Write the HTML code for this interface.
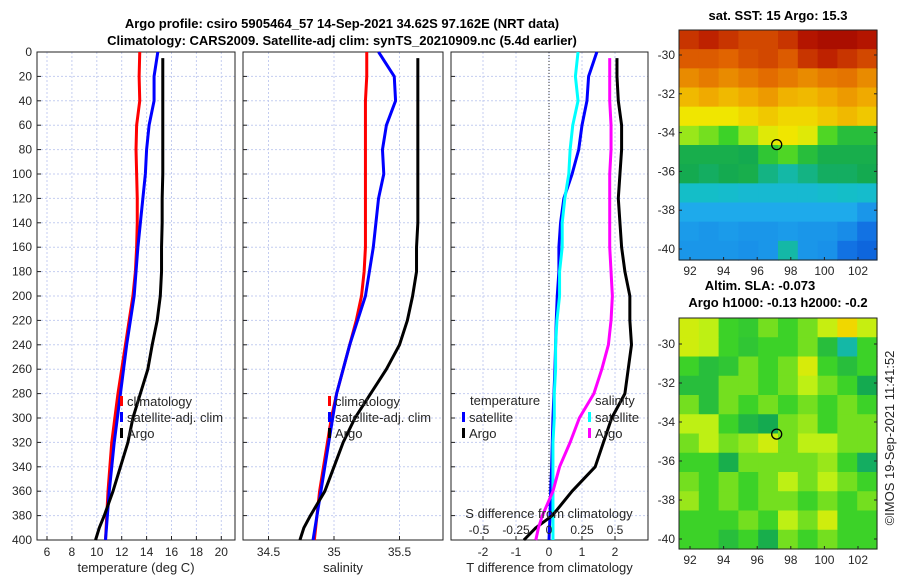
<!DOCTYPE html>
<html><head><meta charset="utf-8"><style>
body{margin:0;background:#fff}
svg{display:block;font-family:"Liberation Sans","DejaVu Sans",sans-serif}
</style></head><body>
<svg id="c" width="900" height="580" viewBox="0 0 900 580"></svg>
<script>
// ---- data ----
const depths=[0,20,40,60,80,100,120,140,160,180,200,220,240,260,280,300,320,340,360,380,400];
const tempClim=[13.45,13.4,13.45,13.2,13.15,13.2,13.25,13.25,13.2,13.1,12.9,12.6,12.3,12.0,11.7,11.45,11.2,11.05,10.9,10.8,10.7];
const tempSat=[14.9,14.6,14.6,14.2,14.0,13.9,13.7,13.5,13.3,13.15,13.0,12.7,12.4,12.15,11.9,11.65,11.4,11.2,11.0,10.85,10.7];
const argoDepths=[5,20,40,60,80,100,120,140,160,180,200,220,240,260,280,300,320,340,360,380,390,400];
const tempArgo=[15.3,15.3,15.3,15.3,15.3,15.3,15.25,15.25,15.2,15.2,15.1,14.85,14.45,14.1,13.5,12.9,12.5,11.9,11.3,10.6,10.2,9.9];
const salClim=[35.25,35.25,35.24,35.24,35.24,35.24,35.24,35.24,35.24,35.23,35.21,35.17,35.12,35.07,35.02,34.98,34.95,34.92,34.89,34.87,34.85];
const salSat=[35.34,35.46,35.47,35.40,35.37,35.38,35.34,35.32,35.30,35.27,35.24,35.18,35.12,35.07,35.02,34.99,34.96,34.93,34.90,34.87,34.84];
const salArgo=[35.64,35.64,35.64,35.64,35.64,35.64,35.64,35.64,35.63,35.63,35.60,35.56,35.50,35.40,35.28,35.16,35.07,35.0,34.93,34.82,34.77,34.74];
const tDiffSat=[1.45,1.2,1.15,1.0,0.9,0.7,0.45,0.35,0.3,0.3,0.25,0.22,0.2,0.18,0.15,0.12,0.1,0.08,0.05,0.03,0.0];
const sDiffSat=[0.22,0.2,0.22,0.18,0.16,0.15,0.12,0.1,0.1,0.08,0.08,0.06,0.05,0.05,0.04,0.04,0.03,0.03,0.03,0.03,0.03];
const tDiffArgo=[2.06,2.06,2.1,2.2,2.2,2.15,2.1,2.15,2.2,2.3,2.45,2.45,2.5,2.4,2.3,1.9,1.65,1.4,0.7,0.1,-0.4,-0.76];
const sDiffArgo=[0.46,0.46,0.46,0.47,0.47,0.46,0.46,0.46,0.46,0.47,0.48,0.47,0.45,0.4,0.34,0.23,0.16,0.08,0.03,-0.05,-0.08,-0.1];
const tTicks=[6,8,10,12,14,16,18,20];
const sTicks=[34.5,35,35.5];
const dTicks=[-2,-1,0,1,2];
const sdTicks=[-0.5,-0.25,0,0.25,0.5];
const depthTicks=[0,20,40,60,80,100,120,140,160,180,200,220,240,260,280,300,320,340,360,380,400];
const latTicks=[-30,-32,-34,-36,-38,-40];
const lonTicks=[92,94,96,98,100,102];
const sstGrid=[
[.9,.92,.9,.88,.88,.9,.94,.96,.96,.94],
[.86,.86,.85,.87,.88,.86,.9,.92,.9,.88],
[.8,.82,.8,.82,.84,.82,.8,.82,.83,.8],
[.74,.76,.74,.76,.78,.75,.74,.76,.78,.76],
[.68,.68,.68,.7,.72,.7,.7,.72,.74,.72],
[.6,.58,.55,.6,.66,.68,.66,.56,.5,.5],
[.46,.46,.46,.45,.52,.56,.5,.46,.46,.46],
[.45,.44,.45,.46,.42,.4,.42,.44,.44,.45],
[.38,.38,.37,.36,.36,.36,.36,.37,.38,.37],
[.3,.3,.3,.3,.3,.3,.3,.3,.3,.26],
[.27,.26,.27,.26,.26,.27,.26,.26,.24,.18],
[.26,.26,.26,.25,.26,.4,.26,.25,.18,.14]];
const slaGrid=[
[.64,.62,.55,.53,.58,.55,.58,.63,.7,.63],
[.64,.62,.55,.52,.55,.55,.58,.5,.4,.55],
[.55,.5,.52,.58,.55,.58,.65,.55,.5,.55],
[.5,.5,.58,.58,.55,.58,.62,.58,.55,.45],
[.58,.5,.58,.55,.58,.55,.58,.55,.58,.55],
[.62,.62,.55,.48,.45,.58,.6,.55,.58,.58],
[.58,.62,.58,.6,.64,.58,.62,.62,.58,.58],
[.55,.55,.46,.58,.58,.58,.58,.6,.55,.44],
[.58,.55,.58,.55,.58,.62,.58,.62,.58,.55],
[.6,.55,.58,.55,.58,.58,.55,.58,.55,.58],
[.55,.55,.55,.58,.55,.62,.58,.64,.55,.55],
[.55,.55,.5,.55,.46,.58,.55,.58,.55,.55]];
const argoLon=97.16, argoLat=-34.62;

// ---- helpers ----
const NS="http://www.w3.org/2000/svg";
const svg=document.getElementById('c');
function mk(tag,attrs,parent){const e=document.createElementNS(NS,tag);for(const k in attrs)e.setAttribute(k,attrs[k]);(parent||svg).appendChild(e);return e;}
function txt(x,y,s,opt){const e=mk('text',Object.assign({x:x,y:y,'font-size':12,fill:'#262626'},opt||{}));e.textContent=s;return e;}
const yD=d=>52+d*1.22;
const xT=t=>47+(t-6)*12.45;
const xS=s=>334+(s-35)*131;
const xDT=v=>549+v*33;
const xDS=v=>549+v*132;
const cmStops=[[0,[0,60,200]],[0.2,[20,120,230]],[0.3,[30,170,235]],[0.38,[20,190,200]],[0.45,[20,170,80]],[0.55,[60,210,40]],[0.62,[190,240,20]],[0.68,[240,230,0]],[0.76,[240,170,0]],[0.85,[225,100,0]],[0.93,[185,25,0]],[1,[150,0,0]]];
function cmap(v){v=Math.max(0,Math.min(1,v));for(let i=1;i<cmStops.length;i++){const a=cmStops[i-1],b=cmStops[i];if(v<=b[0]){const f=(v-a[0])/(b[0]-a[0]);const c=a[1].map((x,k)=>Math.round(x+(b[1][k]-x)*f));return `rgb(${c[0]},${c[1]},${c[2]})`;}}return 'rgb(150,0,0)';}

let t=txt(342,28,'Argo profile: csiro 5905464_57 14-Sep-2021 34.62S 97.162E (NRT data)',{'font-size':13,'font-weight':'bold','text-anchor':'middle',fill:'#000'});

t=txt(342,45,'Climatology: CARS2009. Satellite-adj clim: synTS_20210909.nc (5.4d earlier)',{'font-size':13,'font-weight':'bold','text-anchor':'middle',fill:'#000'});


function panel(name,x0,x1,xs,ticks,label,yLabels){
  const g=mk('g',{});
  
  
  depthTicks.forEach(d=>{mk('line',{x1:x0,x2:x1,y1:yD(d),y2:yD(d),stroke:'#c4cdf0','stroke-dasharray':'2,2','stroke-width':1},g);
    mk('line',{x1:x0,x2:x0+4,y1:yD(d),y2:yD(d),stroke:'#222'},g);
    if(yLabels){g.appendChild(txt(x0-5,yD(d)+4,String(d),{'text-anchor':'end'}));}});
  ticks.forEach(v=>{const x=xs(v);mk('line',{x1:x,x2:x,y1:52,y2:540,stroke:'#c4cdf0','stroke-dasharray':'2,2'},g);
    mk('line',{x1:x,x2:x,y1:540,y2:536,stroke:'#222'},g);
    g.appendChild(txt(x,556,String(v),{'text-anchor':'middle'}));});
  mk('rect',{x:x0,y:52,width:x1-x0,height:488,fill:'none',stroke:'#222','stroke-width':1},g);
  g.appendChild(txt((x0+x1)/2,572,label,{'text-anchor':'middle','font-size':13}));
  return g;
}
const g1=panel('temperature-panel',37,235,xT,tTicks,'temperature (deg C)',true);
const g2=panel('salinity-panel',243,443,xS,sTicks,'salinity',false);
const g3=panel('difference-panel',451,648,xDT,dTicks,'T difference from climatology',false);
mk('line',{x1:549,x2:549,y1:52,y2:540,stroke:'#333','stroke-dasharray':'1,2'},g3);

function line(g,name,ds,vals,xs,color){
  const p=mk('polyline',{points:vals.map((v,i)=>xs(v)+','+yD(ds[i])).join(' '),fill:'none',stroke:color,'stroke-width':3,'stroke-linejoin':'round'},g);
  
  
}
line(g1,'temp-climatology-line',depths,tempClim,xT,'#f00');
line(g1,'temp-satellite-line',depths,tempSat,xT,'#00f');
line(g1,'temp-argo-line',argoDepths,tempArgo,xT,'#000');
line(g2,'sal-climatology-line',depths,salClim,xS,'#f00');
line(g2,'sal-satellite-line',depths,salSat,xS,'#00f');
line(g2,'sal-argo-line',argoDepths,salArgo,xS,'#000');
line(g3,'tdiff-satellite-line',depths,tDiffSat,xDT,'#00f');
line(g3,'sdiff-satellite-line',depths,sDiffSat,xDS,'#0ff');
line(g3,'tdiff-argo-line',argoDepths,tDiffArgo,xDT,'#000');
line(g3,'sdiff-argo-line',argoDepths,sDiffArgo,xDS,'#f0f');

function legend(g,x,y,color,label){
  mk('rect',{x:x,y:y-9,width:3,height:10,fill:color},g);
  const l=txt(x+7,y+1,label,{'font-size':13});g.appendChild(l);
  
}
legend(g1,120,405,'#f00','climatology');legend(g1,120,421,'#00f','satellite-adj. clim');legend(g1,120,437,'#000','Argo');
legend(g2,328,405,'#f00','climatology');legend(g2,328,421,'#00f','satellite-adj. clim');legend(g2,328,437,'#000','Argo');
g3.appendChild(txt(470,405,'temperature',{'font-size':13}));
legend(g3,462,421,'#00f','satellite');legend(g3,462,437,'#000','Argo');
g3.appendChild(txt(595,405,'salinity',{'font-size':13}));
legend(g3,588,421,'#0ff','satellite');legend(g3,588,437,'#f0f','Argo');
let lt=txt(549,518,'S difference from climatology',{'font-size':13,'text-anchor':'middle'});g3.appendChild(lt);

sdTicks.forEach(v=>{g3.appendChild(txt(xDS(v)-(v===-0.5?4:0),534,String(v),{'text-anchor':'middle'}));});

function map(name,top,bottom,lat30y,lat40y,grid,title1,title2){
  const g=mk('g',{});
  
  
  const x0=679,x1=877;
  const lonX=l=>690+(l-92)*16.8;
  const latY=l=>lat30y+(-30-l)*(lat40y-lat30y)/10;
  const rows=grid.length,cols=grid[0].length,cw=(x1-x0)/cols,ch=(bottom-top)/rows;
  grid.forEach((row,r)=>row.forEach((v,c)=>{
    const cell=mk('rect',{x:x0+c*cw,y:top+r*ch,width:cw+0.6,height:ch+0.6,fill:cmap(v)},g);
    
    
  }));
  mk('rect',{x:x0,y:top,width:x1-x0,height:bottom-top,fill:'none',stroke:'#222'},g);
  latTicks.forEach(l=>{const y=latY(l);mk('line',{x1:x0,x2:x0+3,y1:y,y2:y,stroke:'#222'},g);mk('line',{x1:x1,x2:x1-3,y1:y,y2:y,stroke:'#222'},g);
    g.appendChild(txt(x0-4,y+4,String(l),{'text-anchor':'end'}));});
  lonTicks.forEach(l=>{const x=lonX(l);mk('line',{x1:x,x2:x,y1:bottom,y2:bottom-3,stroke:'#222'},g);
    g.appendChild(txt(x,bottom+15,String(l),{'text-anchor':'middle'}));});
  const m=mk('circle',{cx:lonX(argoLon),cy:latY(argoLat),r:5,fill:'none',stroke:'#000','stroke-width':1.3},g);
  
  if(title2){g.appendChild(txt(760,top-28,title1,{'font-size':13,'font-weight':'bold','text-anchor':'middle',fill:'#000'}));
    g.appendChild(txt(778,top-11,title2,{'font-size':13,'font-weight':'bold','text-anchor':'middle',fill:'#000'}));}
  else g.appendChild(txt(778,top-10,title1,{'font-size':13,'font-weight':'bold','text-anchor':'middle',fill:'#000'}));
}
map('sst-map',30,260,55,249,sstGrid,'sat. SST: 15 Argo: 15.3');
map('sla-map',318,549,344,539,slaGrid,'Altim. SLA: -0.073','Argo h1000: -0.13 h2000: -0.2');
const cp=txt(0,0,'©IMOS 19-Sep-2021 11:41:52',{'font-size':13,'text-anchor':'middle',transform:'translate(894,438) rotate(-90)'});

</script>
</body></html>
